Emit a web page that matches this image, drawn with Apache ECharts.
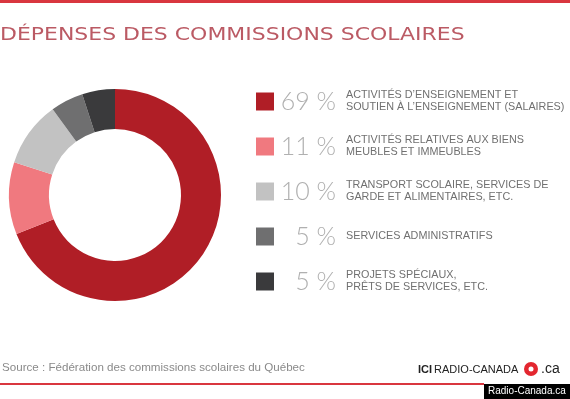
<!DOCTYPE html>
<html>
<head>
<meta charset="utf-8">
<script src="https://cdn.jsdelivr.net/npm/echarts@6/dist/echarts.min.js"></script>
<style>
  html, body { margin: 0; padding: 0; background: #fff; }
  #chart { width: 570px; height: 399px; }
</style>
</head>
<body>
<div id="chart"></div>
<script>
// données
const names = [
  'Enseignement',
  'Biens meubles',
  'Transport',
  'Administratifs',
  'Projets'
]
const values = [69, 11, 10, 5, 5]
const colors = ['#b01e26', '#f0797f', '#c2c2c2', '#6f6f70', '#3a3a3c']
const descriptions = [
  ['ACTIVITÉS D\u2019ENSEIGNEMENT ET', 'SOUTIEN À L\u2019ENSEIGNEMENT (SALAIRES)'],
  ['ACTIVITÉS RELATIVES AUX BIENS', 'MEUBLES ET IMMEUBLES'],
  ['TRANSPORT SCOLAIRE, SERVICES DE', 'GARDE ET ALIMENTAIRES, ETC.'],
  ['SERVICES ADMINISTRATIFS'],
  ['PROJETS SPÉCIAUX,', 'PRÊTS DE SERVICES, ETC.']
]

const chart = echarts.init(document.getElementById('chart'))

const legendTop = 89
const rowHeight = 25 // hauteur réelle d'une ligne de légende (texte 25px)
const rowGap = 20

// textes des descriptions, alignés sur les lignes de la légende
const descTexts = descriptions.map((lines, i) => ({
  type: 'text',
  left: 346,
  top: legendTop + i * (rowHeight + rowGap) + rowHeight / 2 - lines.length * 6,
  style: {
    text: lines.join('\n'),
    fill: '#707070',
    font: '10.8px "Liberation Sans", Arial, sans-serif',
    lineHeight: 12
  },
  silent: true
}))

chart.setOption({
  animation: false,
  legend: {
    orient: 'vertical',
    left: 256,
    top: legendTop,
    padding: 0,
    itemWidth: 18,
    itemHeight: 18,
    itemGap: rowGap,
    icon: 'rect',
    selectedMode: false,
    data: names,
    formatter: function(name) {
      const i = names.indexOf(name)
      return '{p|' + values[i] + ' %}'
    },
    textStyle: {
      rich: {
        p: {
          fontFamily: 'Lato, sans-serif',
          fontWeight: 300,
          fontSize: 25,
          width: 57,
          align: 'right',
          color: '#b0b0b0'
        }
      }
    }
  },
  series: [
    {
      type: 'pie',
      center: [115, 195],
      radius: [66, 106],
      startAngle: 90,
      clockwise: true,
      silent: true,
      label: { show: false },
      labelLine: { show: false },
      data: names.map((n, i) => ({
        name: n,
        value: values[i],
        itemStyle: { color: colors[i] }
      }))
    }
  ],
  graphic: [
    // titre, étiré horizontalement comme dans l'original
    {
      type: 'text',
      x: 0,
      y: 26,
      scaleX: 1.22,
      style: {
        text: 'DÉPENSES DES COMMISSIONS SCOLAIRES',
        fill: '#bb5a64',
        font: '18px "DejaVu Sans", sans-serif'
      },
      silent: true
    },
    { type: 'rect', shape: { x: 0, y: 0, width: 570, height: 3 }, style: { fill: '#d9363f' }, silent: true },
    { type: 'rect', shape: { x: 0, y: 383, width: 484, height: 2 }, style: { fill: '#d9363f' }, silent: true },
    { type: 'rect', shape: { x: 484, y: 384, width: 86, height: 15 }, style: { fill: '#000' }, silent: true },
    {
      type: 'text', left: 488, top: 386,
      style: { text: 'Radio-Canada.ca', fill: '#fff', font: '10px "Liberation Sans", Arial, sans-serif' },
      silent: true
    },
    {
      type: 'text', left: 2, top: 362,
      style: {
        text: 'Source : Fédération des commissions scolaires du Québec',
        fill: '#8a8a8a',
        font: '11.6px "Liberation Sans", Arial, sans-serif'
      },
      silent: true
    },
    {
      type: 'text', left: 418, top: 364,
      style: {
        text: '{b|ICI}{n|RADIO-CANADA}',
        rich: {
          b: { font: 'bold 11px "Liberation Sans", Arial, sans-serif', fill: '#222' },
          n: { font: '11px "Liberation Sans", Arial, sans-serif', fill: '#222', padding: [0, 0, 0, 2] }
        }
      },
      silent: true
    },
    { type: 'circle', shape: { cx: 531, cy: 369, r: 7 }, style: { fill: '#e3262f' }, silent: true },
    { type: 'circle', shape: { cx: 531, cy: 369, r: 2.5 }, style: { fill: '#fff' }, silent: true },
    {
      type: 'text', left: 541, top: 362,
      style: { text: '.ca', fill: '#222', font: '14px "Liberation Sans", Arial, sans-serif' },
      silent: true
    }
  ].concat(descTexts)
})
</script>
</body>
</html>
